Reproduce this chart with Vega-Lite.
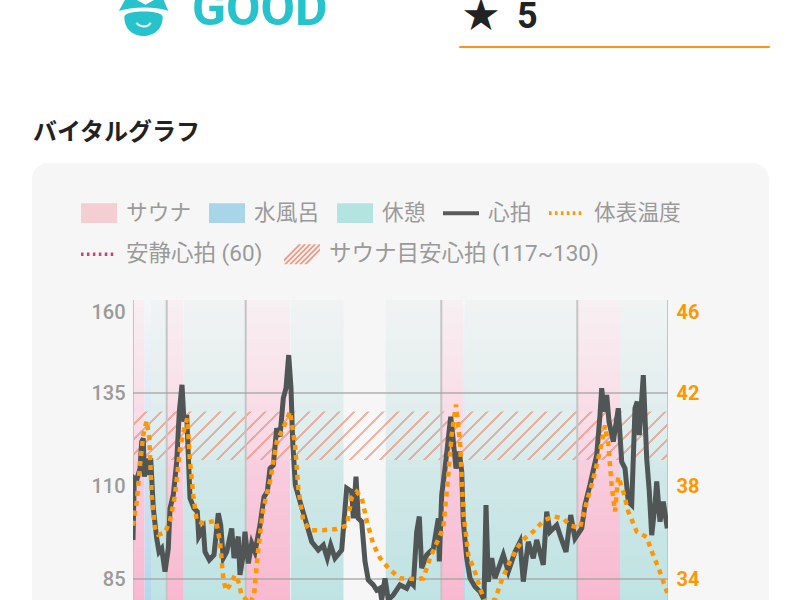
{"$schema":"https://vega.github.io/schema/vega-lite/v6.json","width":535,"height":300,"padding":{"left":133,"top":300,"right":132,"bottom":0},"autosize":{"type":"none"},"background":"#ffffff",
"title":{"text":"バイタルグラフ","anchor":"start","frame":"group","dx":-100,"offset":0,"dy":160,"font":"Noto Sans CJK JP","fontSize":24,"fontWeight":"bold","color":"#222222"},
"config":{"view":{"stroke":null},"font":"Noto Sans CJK JP","axisX":{"disable":true}},
"datasets":{
"zones":[{"kind":"sauna","start":0,"end":11.5},{"kind":"water","start":11.5,"end":18},{"kind":"rest","start":18,"end":33.7},{"kind":"sauna","start":33.7,"end":50.3},{"kind":"water","start":50.3,"end":51},{"kind":"rest","start":51,"end":112.7},{"kind":"sauna","start":113,"end":157},{"kind":"rest","start":157.7,"end":210.5},{"kind":"rest","start":252.7,"end":308},{"kind":"sauna","start":308.5,"end":330},{"kind":"water","start":330,"end":332},{"kind":"rest","start":332,"end":444},{"kind":"sauna","start":444.5,"end":487},{"kind":"rest","start":487,"end":535}],
"sets":[{"t":0},{"t":33.7},{"t":112.7},{"t":308.3},{"t":444.3},{"t":535}],
"gridRows":[{"v":135},{"v":85}],
"series1":[{"s":"サウナ"},{"s":"水風呂"},{"s":"休憩"},{"s":"心拍"},{"s":"体表温度"}],
"series2":[{"s":"安静心拍 (60)"},{"s":"サウナ目安心拍 (117~130)"}],
"hr":[{"t":0,"v":95.5},{"t":1.3,"v":112.1},{"t":3.7,"v":111.6},{"t":7,"v":114.7},{"t":8.7,"v":121.9},{"t":10.3,"v":122.8},{"t":11.3,"v":112.5},{"t":13.7,"v":117.4},{"t":15.3,"v":113},{"t":17.7,"v":117.4},{"t":20.3,"v":104},{"t":23.7,"v":95.9},{"t":26,"v":92.3},{"t":28.7,"v":93.2},{"t":32,"v":87},{"t":35.3,"v":93.2},{"t":37,"v":104},{"t":40.3,"v":107.6},{"t":43.7,"v":116.5},{"t":46.3,"v":130},{"t":49,"v":137.2},{"t":51,"v":127.3},{"t":53.7,"v":129.1},{"t":57,"v":106.7},{"t":61,"v":104},{"t":64.3,"v":103.1},{"t":65.7,"v":96.4},{"t":70.3,"v":98.6},{"t":72,"v":92.3},{"t":76.3,"v":90.1},{"t":81,"v":91.5},{"t":85.3,"v":102.7},{"t":87.7,"v":99.5},{"t":90.3,"v":90.6},{"t":93.7,"v":92.3},{"t":98.7,"v":98.6},{"t":101,"v":90.6},{"t":105.3,"v":96.4},{"t":107,"v":86.1},{"t":109.7,"v":90.6},{"t":112,"v":97.7},{"t":115.3,"v":89.2},{"t":118.7,"v":94.6},{"t":122,"v":92.3},{"t":127,"v":99.5},{"t":131,"v":107.1},{"t":134.3,"v":108.5},{"t":137,"v":114.7},{"t":140.3,"v":115.6},{"t":143.7,"v":125.5},{"t":147,"v":123.3},{"t":150.3,"v":133.6},{"t":153,"v":136.3},{"t":155.7,"v":145.2},{"t":158,"v":136.3},{"t":159.7,"v":121.9},{"t":162.3,"v":110.3},{"t":167,"v":105.8},{"t":172,"v":101.3},{"t":178.7,"v":95},{"t":185.3,"v":92.8},{"t":190.3,"v":94.1},{"t":194.3,"v":90.6},{"t":197.7,"v":94.1},{"t":202,"v":90.6},{"t":208.7,"v":92.8},{"t":213.7,"v":109.4},{"t":218.7,"v":108.5},{"t":220.3,"v":101.3},{"t":223,"v":112.5},{"t":225.3,"v":101.3},{"t":228.7,"v":100.4},{"t":232,"v":89.7},{"t":235.3,"v":84.7},{"t":240.3,"v":83.4},{"t":243.7,"v":82},{"t":247,"v":82.5},{"t":248.7,"v":79.4},{"t":252,"v":85.2},{"t":255.3,"v":79.4},{"t":260.3,"v":80.7},{"t":267,"v":83.4},{"t":273.7,"v":82.5},{"t":277,"v":84.3},{"t":280.3,"v":83.4},{"t":283.7,"v":97.7},{"t":286.3,"v":101.8},{"t":288.7,"v":87.9},{"t":293.7,"v":91.5},{"t":300.3,"v":93.2},{"t":305.3,"v":101.3},{"t":306.3,"v":89.7},{"t":308.7,"v":107.6},{"t":312,"v":114.7},{"t":317.7,"v":128.6},{"t":319.7,"v":123.7},{"t":323,"v":114.7},{"t":326.3,"v":119.2},{"t":328.7,"v":113.9},{"t":330.3,"v":100.4},{"t":333.7,"v":90.6},{"t":337,"v":85.2},{"t":342,"v":82.9},{"t":347,"v":81.6},{"t":351,"v":79.4},{"t":353,"v":104.9},{"t":355.3,"v":84.3},{"t":358.7,"v":90.6},{"t":362,"v":85.2},{"t":370.3,"v":91.5},{"t":375.3,"v":87},{"t":382,"v":92.3},{"t":387,"v":95},{"t":390.3,"v":84.3},{"t":395.3,"v":95},{"t":400.3,"v":90.6},{"t":403.7,"v":95.5},{"t":410.3,"v":88.8},{"t":413.7,"v":103.1},{"t":417,"v":97.7},{"t":423.7,"v":99.5},{"t":428.7,"v":95.5},{"t":433,"v":92.3},{"t":437.7,"v":102.2},{"t":442,"v":95.9},{"t":448.7,"v":98.6},{"t":452,"v":104.9},{"t":457,"v":110.3},{"t":463.7,"v":118.3},{"t":467,"v":129.1},{"t":468.7,"v":136.3},{"t":471,"v":130},{"t":473.7,"v":134.5},{"t":476,"v":127.3},{"t":480.3,"v":121.9},{"t":485.3,"v":130.9},{"t":488.7,"v":116.5},{"t":492,"v":114.7},{"t":495.3,"v":105.8},{"t":498.7,"v":104.9},{"t":502,"v":130.9},{"t":504.3,"v":132.7},{"t":506.3,"v":123.7},{"t":510.3,"v":139.8},{"t":513.7,"v":117.4},{"t":516.3,"v":108.5},{"t":518.7,"v":96.8},{"t":522,"v":104.9},{"t":523.7,"v":111.2},{"t":527,"v":100.4},{"t":530.3,"v":105.8},{"t":534.3,"v":98.6}],
"temp":[{"t":0,"v":36.3},{"t":3.7,"v":37.3},{"t":7,"v":38.9},{"t":10.3,"v":40.2},{"t":13.7,"v":40.8},{"t":16.3,"v":40.05},{"t":18.7,"v":37.6},{"t":22,"v":36.2},{"t":25.3,"v":35.9},{"t":32,"v":36},{"t":37,"v":36.5},{"t":42,"v":37.6},{"t":47,"v":39.6},{"t":52,"v":40.6},{"t":54.3,"v":40.9},{"t":57,"v":39.05},{"t":60.3,"v":37.6},{"t":63.7,"v":36.5},{"t":70.3,"v":36.4},{"t":83,"v":36.5},{"t":87,"v":35.6},{"t":90.3,"v":34.03},{"t":93,"v":33.5},{"t":97,"v":33.75},{"t":102,"v":34.17},{"t":105.3,"v":33.9},{"t":108.7,"v":33.3},{"t":117,"v":32.95},{"t":121,"v":33.3},{"t":125.3,"v":35.3},{"t":130.3,"v":37.04},{"t":137,"v":38.2},{"t":143.7,"v":39.9},{"t":150.3,"v":40.5},{"t":157,"v":41.2},{"t":162,"v":39.8},{"t":165.3,"v":37.9},{"t":170.3,"v":36.5},{"t":177,"v":36.1},{"t":190.3,"v":36.1},{"t":203.7,"v":36.15},{"t":213.7,"v":36.3},{"t":218.7,"v":37.5},{"t":223.7,"v":37.75},{"t":228.7,"v":37.5},{"t":233.7,"v":36.5},{"t":240.3,"v":35.5},{"t":247,"v":34.9},{"t":257,"v":34.4},{"t":267,"v":34.03},{"t":283.7,"v":34},{"t":290.3,"v":34.03},{"t":297,"v":34.9},{"t":305.3,"v":35.7},{"t":310.3,"v":36.2},{"t":315.3,"v":38.5},{"t":318.7,"v":40.2},{"t":323,"v":41.5},{"t":327,"v":39.9},{"t":330.3,"v":36.9},{"t":335.3,"v":35.03},{"t":342,"v":34.3},{"t":347,"v":33.6},{"t":352,"v":33.03},{"t":362,"v":33.1},{"t":368.7,"v":33.96},{"t":377,"v":34.75},{"t":383.7,"v":35.3},{"t":390.3,"v":35.7},{"t":400.3,"v":36.04},{"t":410.3,"v":36.5},{"t":420.3,"v":36.7},{"t":430.3,"v":36.6},{"t":437,"v":36.3},{"t":447,"v":36.2},{"t":453.7,"v":37.3},{"t":460.3,"v":38.3},{"t":467,"v":39.5},{"t":472,"v":40.6},{"t":475.3,"v":39.8},{"t":478.7,"v":38},{"t":482,"v":36.9},{"t":484.3,"v":38},{"t":485.3,"v":38.4},{"t":490.3,"v":37.75},{"t":495.3,"v":36.9},{"t":503.7,"v":36.04},{"t":513.7,"v":35.8},{"t":518.7,"v":35.2},{"t":527,"v":34.3},{"t":534.3,"v":33.4}]
},
"layer":[
{"resolve":{"scale":{"color":"independent","shape":"independent"}},"layer":[
{"data":{"values":[{"s":"card"}]},"mark":{"type":"rect","fill":"#f6f6f6","cornerRadius":16},"encoding":{"x":{"datum":-101,"type":"quantitative","scale":{"domain":[0,535],"nice":false}},"x2":{"datum":636},"y":{"datum":196.83,"type":"quantitative","scale":{"domain":[79.355,160],"nice":false},"axis":{"title":null,"orient":"left","values":[160,135,110,85],"domain":false,"ticks":false,"grid":false,"zindex":1,"labelFont":"Roboto","labelFontSize":20,"labelFontWeight":500,"labelColor":"#9a9a9a","labelPadding":8,"labelOverlap":false,"labelFlush":false,"labelBound":false,"labelOffset":{"condition":{"test":"datum.value==160","value":12},"value":0}}},"y2":{"datum":60}}},
{"data":{"values":[{"label":"GOOD"}]},"mark":{"type":"text","align":"left","baseline":"alphabetic","font":"Roboto","fontWeight":"bold","fontSize":50,"color":"#26c3cc"},"encoding":{"x":{"datum":59,"type":"quantitative"},"y":{"datum":233.9,"type":"quantitative"},"text":{"field":"label"}}},
{"data":{"values":[{"label":"★\u00a0\u00a05"}]},"mark":{"type":"text","align":"left","baseline":"alphabetic","font":"Roboto, Noto Sans CJK JP","fontWeight":"bold","fontSize":36,"color":"#222222"},"encoding":{"x":{"datum":330,"type":"quantitative"},"y":{"datum":233.1,"type":"quantitative"},"text":{"field":"label"}}},
{"data":{"values":[{"s":"divider"}]},"mark":{"type":"rule","color":"#f7931e","strokeWidth":2,"strokeCap":"round"},"encoding":{"x":{"datum":327,"type":"quantitative"},"x2":{"datum":636},"y":{"datum":228,"type":"quantitative"}}},
{"data":{"values":[{"s":"icon"}]},"mark":{"type":"point","filled":true,"opacity":1,"color":"#26c3cc","size":2304,"shape":"M-0.72,-0.6L0.8,-0.6L1.05,0C0.5,-0.2 -0.4,-0.2 -1.05,0ZM-0.8,0.2C-0.8,-0.1 0.8,-0.1 0.8,0.2C0.8,0.75 0.4,1 0,1C-0.4,1 -0.8,0.75 -0.8,0.2Z"},"encoding":{"x":{"datum":10.5,"type":"quantitative"},"y":{"datum":237.4,"type":"quantitative"}}},
{"data":{"values":[{"s":"icon-cap"}]},"mark":{"type":"point","filled":true,"opacity":1,"color":"#ffffff","size":2304,"shape":"M-0.45,-0.6L0.62,-0.6L0.08,-0.3Z"},"encoding":{"x":{"datum":10.5,"type":"quantitative"},"y":{"datum":237.4,"type":"quantitative"}}},
{"data":{"values":[{"s":"icon-lines"}]},"mark":{"type":"point","filled":false,"opacity":1,"stroke":"#ffffff","strokeWidth":2,"size":2304,"shape":"M-1.1,0.02C-0.4,-0.2 0.5,-0.2 1.1,0.02M-0.3,0.45C-0.1,0.65 0.15,0.65 0.3,0.45"},"encoding":{"x":{"datum":10.5,"type":"quantitative"},"y":{"datum":237.4,"type":"quantitative"}}},
{"data":{"name":"zones"},"transform":[{"filter":"datum.kind=='sauna'"}],"mark":{"type":"rect","clip":true,"color":{"gradient":"linear","x1":0,"y1":0,"x2":0,"y2":1,"stops":[{"offset":0,"color":"#f7f0f3"},{"offset":0.27,"color":"#f9e2ea"},{"offset":0.6,"color":"#f8cbdc"},{"offset":1,"color":"#f8b9cf"}]}},"encoding":{"x":{"field":"start","type":"quantitative"},"x2":{"field":"end"}}},
{"data":{"name":"zones"},"transform":[{"filter":"datum.kind=='water'"}],"mark":{"type":"rect","clip":true,"color":{"gradient":"linear","x1":0,"y1":0,"x2":0,"y2":1,"stops":[{"offset":0,"color":"#f4f6f9"},{"offset":1,"color":"#b5d6ec"}]}},"encoding":{"x":{"field":"start","type":"quantitative"},"x2":{"field":"end"}}},
{"data":{"name":"zones"},"transform":[{"filter":"datum.kind=='rest'"}],"mark":{"type":"rect","clip":true,"color":{"gradient":"linear","x1":0,"y1":0,"x2":0,"y2":1,"stops":[{"offset":0,"color":"#f1f3f3"},{"offset":0.33,"color":"#e3eeee"},{"offset":0.6,"color":"#d0e7e7"},{"offset":1,"color":"#bfe3e3"}]}},"encoding":{"x":{"field":"start","type":"quantitative"},"x2":{"field":"end"}}},
{"data":{"values":[{"low":117,"high":130}]},"mark":{"type":"rect","clip":true,"color":{"gradient":"linear","x1":0,"y1":0,"x2":1.1,"y2":0.0995,"stops":[{"offset":0,"color":"#ffffff1a"},{"offset":0.02,"color":"#ffffff1a"},{"offset":0.02,"color":"#ec8a7399"},{"offset":0.025,"color":"#ec8a7399"},{"offset":0.025,"color":"#ffffff1a"},{"offset":0.045,"color":"#ffffff1a"},{"offset":0.045,"color":"#ec8a7399"},{"offset":0.05,"color":"#ec8a7399"},{"offset":0.05,"color":"#ffffff1a"},{"offset":0.07,"color":"#ffffff1a"},{"offset":0.07,"color":"#ec8a7399"},{"offset":0.075,"color":"#ec8a7399"},{"offset":0.075,"color":"#ffffff1a"},{"offset":0.095,"color":"#ffffff1a"},{"offset":0.095,"color":"#ec8a7399"},{"offset":0.1,"color":"#ec8a7399"},{"offset":0.1,"color":"#ffffff1a"},{"offset":0.12,"color":"#ffffff1a"},{"offset":0.12,"color":"#ec8a7399"},{"offset":0.125,"color":"#ec8a7399"},{"offset":0.125,"color":"#ffffff1a"},{"offset":0.145,"color":"#ffffff1a"},{"offset":0.145,"color":"#ec8a7399"},{"offset":0.15,"color":"#ec8a7399"},{"offset":0.15,"color":"#ffffff1a"},{"offset":0.17,"color":"#ffffff1a"},{"offset":0.17,"color":"#ec8a7399"},{"offset":0.175,"color":"#ec8a7399"},{"offset":0.175,"color":"#ffffff1a"},{"offset":0.195,"color":"#ffffff1a"},{"offset":0.195,"color":"#ec8a7399"},{"offset":0.2,"color":"#ec8a7399"},{"offset":0.2,"color":"#ffffff1a"},{"offset":0.22,"color":"#ffffff1a"},{"offset":0.22,"color":"#ec8a7399"},{"offset":0.225,"color":"#ec8a7399"},{"offset":0.225,"color":"#ffffff1a"},{"offset":0.245,"color":"#ffffff1a"},{"offset":0.245,"color":"#ec8a7399"},{"offset":0.25,"color":"#ec8a7399"},{"offset":0.25,"color":"#ffffff1a"},{"offset":0.27,"color":"#ffffff1a"},{"offset":0.27,"color":"#ec8a7399"},{"offset":0.275,"color":"#ec8a7399"},{"offset":0.275,"color":"#ffffff1a"},{"offset":0.295,"color":"#ffffff1a"},{"offset":0.295,"color":"#ec8a7399"},{"offset":0.3,"color":"#ec8a7399"},{"offset":0.3,"color":"#ffffff1a"},{"offset":0.32,"color":"#ffffff1a"},{"offset":0.32,"color":"#ec8a7399"},{"offset":0.325,"color":"#ec8a7399"},{"offset":0.325,"color":"#ffffff1a"},{"offset":0.345,"color":"#ffffff1a"},{"offset":0.345,"color":"#ec8a7399"},{"offset":0.35,"color":"#ec8a7399"},{"offset":0.35,"color":"#ffffff1a"},{"offset":0.37,"color":"#ffffff1a"},{"offset":0.37,"color":"#ec8a7399"},{"offset":0.375,"color":"#ec8a7399"},{"offset":0.375,"color":"#ffffff1a"},{"offset":0.395,"color":"#ffffff1a"},{"offset":0.395,"color":"#ec8a7399"},{"offset":0.4,"color":"#ec8a7399"},{"offset":0.4,"color":"#ffffff1a"},{"offset":0.42,"color":"#ffffff1a"},{"offset":0.42,"color":"#ec8a7399"},{"offset":0.425,"color":"#ec8a7399"},{"offset":0.425,"color":"#ffffff1a"},{"offset":0.445,"color":"#ffffff1a"},{"offset":0.445,"color":"#ec8a7399"},{"offset":0.45,"color":"#ec8a7399"},{"offset":0.45,"color":"#ffffff1a"},{"offset":0.47,"color":"#ffffff1a"},{"offset":0.47,"color":"#ec8a7399"},{"offset":0.475,"color":"#ec8a7399"},{"offset":0.475,"color":"#ffffff1a"},{"offset":0.495,"color":"#ffffff1a"},{"offset":0.495,"color":"#ec8a7399"},{"offset":0.5,"color":"#ec8a7399"},{"offset":0.5,"color":"#ffffff1a"},{"offset":0.52,"color":"#ffffff1a"},{"offset":0.52,"color":"#ec8a7399"},{"offset":0.525,"color":"#ec8a7399"},{"offset":0.525,"color":"#ffffff1a"},{"offset":0.545,"color":"#ffffff1a"},{"offset":0.545,"color":"#ec8a7399"},{"offset":0.55,"color":"#ec8a7399"},{"offset":0.55,"color":"#ffffff1a"},{"offset":0.57,"color":"#ffffff1a"},{"offset":0.57,"color":"#ec8a7399"},{"offset":0.575,"color":"#ec8a7399"},{"offset":0.575,"color":"#ffffff1a"},{"offset":0.595,"color":"#ffffff1a"},{"offset":0.595,"color":"#ec8a7399"},{"offset":0.6,"color":"#ec8a7399"},{"offset":0.6,"color":"#ffffff1a"},{"offset":0.62,"color":"#ffffff1a"},{"offset":0.62,"color":"#ec8a7399"},{"offset":0.625,"color":"#ec8a7399"},{"offset":0.625,"color":"#ffffff1a"},{"offset":0.645,"color":"#ffffff1a"},{"offset":0.645,"color":"#ec8a7399"},{"offset":0.65,"color":"#ec8a7399"},{"offset":0.65,"color":"#ffffff1a"},{"offset":0.67,"color":"#ffffff1a"},{"offset":0.67,"color":"#ec8a7399"},{"offset":0.675,"color":"#ec8a7399"},{"offset":0.675,"color":"#ffffff1a"},{"offset":0.695,"color":"#ffffff1a"},{"offset":0.695,"color":"#ec8a7399"},{"offset":0.7,"color":"#ec8a7399"},{"offset":0.7,"color":"#ffffff1a"},{"offset":0.72,"color":"#ffffff1a"},{"offset":0.72,"color":"#ec8a7399"},{"offset":0.725,"color":"#ec8a7399"},{"offset":0.725,"color":"#ffffff1a"},{"offset":0.745,"color":"#ffffff1a"},{"offset":0.745,"color":"#ec8a7399"},{"offset":0.75,"color":"#ec8a7399"},{"offset":0.75,"color":"#ffffff1a"},{"offset":0.77,"color":"#ffffff1a"},{"offset":0.77,"color":"#ec8a7399"},{"offset":0.775,"color":"#ec8a7399"},{"offset":0.775,"color":"#ffffff1a"},{"offset":0.795,"color":"#ffffff1a"},{"offset":0.795,"color":"#ec8a7399"},{"offset":0.8,"color":"#ec8a7399"},{"offset":0.8,"color":"#ffffff1a"},{"offset":0.82,"color":"#ffffff1a"},{"offset":0.82,"color":"#ec8a7399"},{"offset":0.825,"color":"#ec8a7399"},{"offset":0.825,"color":"#ffffff1a"},{"offset":0.845,"color":"#ffffff1a"},{"offset":0.845,"color":"#ec8a7399"},{"offset":0.85,"color":"#ec8a7399"},{"offset":0.85,"color":"#ffffff1a"},{"offset":0.87,"color":"#ffffff1a"},{"offset":0.87,"color":"#ec8a7399"},{"offset":0.875,"color":"#ec8a7399"},{"offset":0.875,"color":"#ffffff1a"},{"offset":0.895,"color":"#ffffff1a"},{"offset":0.895,"color":"#ec8a7399"},{"offset":0.9,"color":"#ec8a7399"},{"offset":0.9,"color":"#ffffff1a"},{"offset":0.92,"color":"#ffffff1a"},{"offset":0.92,"color":"#ec8a7399"},{"offset":0.925,"color":"#ec8a7399"},{"offset":0.925,"color":"#ffffff1a"},{"offset":0.945,"color":"#ffffff1a"},{"offset":0.945,"color":"#ec8a7399"},{"offset":0.95,"color":"#ec8a7399"},{"offset":0.95,"color":"#ffffff1a"},{"offset":0.97,"color":"#ffffff1a"},{"offset":0.97,"color":"#ec8a7399"},{"offset":0.975,"color":"#ec8a7399"},{"offset":0.975,"color":"#ffffff1a"},{"offset":1,"color":"#ffffff1a"}]}},"encoding":{"y":{"field":"high","type":"quantitative"},"y2":{"field":"low"}}},
{"data":{"name":"sets"},"mark":{"type":"rule","clip":true,"color":"#c4c4c4","strokeWidth":2},"encoding":{"x":{"field":"t","type":"quantitative"}}},
{"data":{"name":"gridRows"},"mark":{"type":"rule","clip":true,"color":"#9e9e9e","opacity":0.6,"strokeWidth":2},"encoding":{"y":{"field":"v","type":"quantitative"}}},
{"data":{"name":"hr"},"mark":{"type":"line","clip":true,"color":"#505556","strokeWidth":5,"strokeJoin":"miter"},"encoding":{"x":{"field":"t","type":"quantitative"},"y":{"field":"v","type":"quantitative"}}},
{"data":{"name":"series1"},"mark":{"type":"point","filled":true,"opacity":0},"encoding":{"color":{"field":"s","type":"nominal","scale":{"domain":["サウナ","水風呂","休憩","心拍","体表温度"],"range":["#f3cfd3","#a9d5e8","#b3e4e0","#5b5b5b","#ff9800"]},"legend":{"title":null,"orient":"none","direction":"horizontal","legendX":-52,"legendY":-105,"columns":5,"symbolSize":1296,"symbolStrokeWidth":0,"symbolOpacity":1,"labelFont":"Roboto, Noto Sans CJK JP","labelFontSize":21.7,"labelColor":"#9a9a9a","labelOffset":9,"columnPadding":17,"labelLimit":400}},"shape":{"field":"s","type":"nominal","scale":{"domain":["サウナ","水風呂","休憩","心拍","体表温度"],"range":["M-1,-0.55H1V0.55H-1Z","M-1,-0.55H1V0.55H-1Z","M-1,-0.55H1V0.55H-1Z","M-1,-0.11H1V0.11H-1Z","M-1,-0.1H-0.86V0.1H-1ZM-0.67,-0.1H-0.53V0.1H-0.67ZM-0.34,-0.1H-0.2V0.1H-0.34ZM-0.01,-0.1H0.13V0.1H-0.01ZM0.32,-0.1H0.46V0.1H0.32ZM0.65,-0.1H0.79V0.1H0.65Z"]},"legend":null}}},
{"data":{"name":"series2"},"mark":{"type":"point","filled":true,"opacity":0},"encoding":{"color":{"field":"s","type":"nominal","scale":{"domain":["安静心拍 (60)","サウナ目安心拍 (117~130)"],"range":["#c2476a","#ee9a85"]},"legend":{"title":null,"orient":"none","direction":"horizontal","legendX":-52,"legendY":-64,"columns":2,"symbolSize":1296,"symbolStrokeWidth":0,"symbolOpacity":1,"labelFont":"Roboto, Noto Sans CJK JP","labelFontSize":22.5,"labelColor":"#9a9a9a","labelOffset":9,"columnPadding":21,"labelLimit":400}},"shape":{"field":"s","type":"nominal","scale":{"domain":["安静心拍 (60)","サウナ目安心拍 (117~130)"],"range":["M-1,-0.1H-0.86V0.1H-1ZM-0.67,-0.1H-0.53V0.1H-0.67ZM-0.34,-0.1H-0.2V0.1H-0.34ZM-0.01,-0.1H0.13V0.1H-0.01ZM0.32,-0.1H0.46V0.1H0.32ZM0.65,-0.1H0.79V0.1H0.65Z","M-1,0.55L-0.86,0.55L0.24,-0.55L0.1,-0.55ZM-0.72,0.55L-0.58,0.55L0.52,-0.55L0.38,-0.55ZM-0.44,0.55L-0.3,0.55L0.8,-0.55L0.66,-0.55ZM-0.16,0.55L-0.02,0.55L1,-0.47L1,-0.55L0.94,-0.55ZM-1,0.27L-0.18,-0.55L-0.04,-0.55L-1,0.41ZM0.12,0.55L0.26,0.55L1,-0.19L1,-0.33Z"]},"legend":null}}}
]},
{"data":{"name":"temp"},"mark":{"type":"line","clip":true,"color":"#ff9800","strokeWidth":4.5,"strokeDash":[5,5]},"encoding":{"x":{"field":"t","type":"quantitative"},"y":{"field":"v","type":"quantitative","scale":{"domain":[33.097,46],"nice":false},"axis":{"title":null,"orient":"right","values":[46,42,38,34],"domain":false,"ticks":false,"grid":false,"zindex":1,"labelFont":"Roboto","labelFontSize":20,"labelFontWeight":"bold","labelColor":"#ff9800","labelPadding":8,"labelOverlap":false,"labelFlush":false,"labelBound":false,"labelOffset":{"condition":{"test":"datum.value==46","value":12},"value":0}}}}}
],
"resolve":{"scale":{"y":"independent"},"axis":{"y":"independent"}}
}
